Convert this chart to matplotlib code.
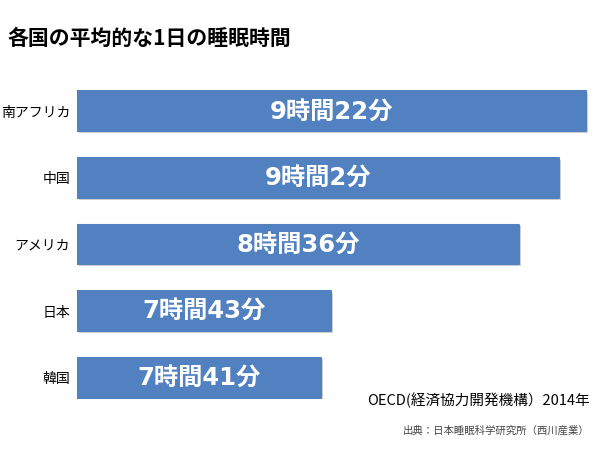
import matplotlib
matplotlib.use("Agg")
import matplotlib.pyplot as plt
import matplotlib.patheffects as pe

plt.rcParams['font.family'] = ['Noto Sans CJK JP', 'DejaVu Sans']

countries = ["南アフリカ", "中国", "アメリカ", "日本", "韓国"]
time_labels = ["9時間22分", "9時間2分", "8時間36分", "7時間43分", "7時間41分"]
# bar lengths as drawn in the reference (arbitrary display units)
bar_lengths = [509, 482, 442, 254, 244]

title = "各国の平均的な1日の睡眠時間"
note = "OECD(経済協力開発機構）2014年"
source = "出典：日本睡眠科学研究所（西川産業）"

bar_color = "#5181c1"

fig = plt.figure(figsize=(6, 4.5), dpi=100)
ax = fig.add_axes([77/600, 1-411/450, 520/600, 333/450])

ys = list(range(len(countries)))
bars = ax.barh(ys, bar_lengths, height=0.6, color=bar_color,
               edgecolor=bar_color, linewidth=1.5, joinstyle='round')
for b in bars:
    b.set_path_effects([pe.SimplePatchShadow(offset=(1.2, -1.2), shadow_rgbFace='#000000', alpha=0.18),
                        pe.Normal()])

for y, L, lab in zip(ys, bar_lengths, time_labels):
    ax.text(L/2, y, lab, ha='center', va='center', color='white',
            fontsize=17.5, fontweight='bold',
            family=['DejaVu Sans', 'Noto Sans CJK JP'])

ax.set_xlim(0, 520)
ax.set_ylim(4.5, -0.5)
ax.set_yticks(ys)
ax.set_yticklabels(countries, fontsize=10)
ax.tick_params(axis='y', length=0, pad=5)
ax.set_xticks([])
for s in ax.spines.values():
    s.set_visible(False)

fig.text(8/600, 1-38/450, title, fontsize=15, fontweight='bold', ha='left', va='center')
fig.text(590/600, 1-400/450, note, fontsize=10.5, ha='right', va='center')
fig.text(590/600, 1-431/450, source, fontsize=7.5, ha='right', va='center', color='#444444')

fig.savefig("out.png", dpi=100)
